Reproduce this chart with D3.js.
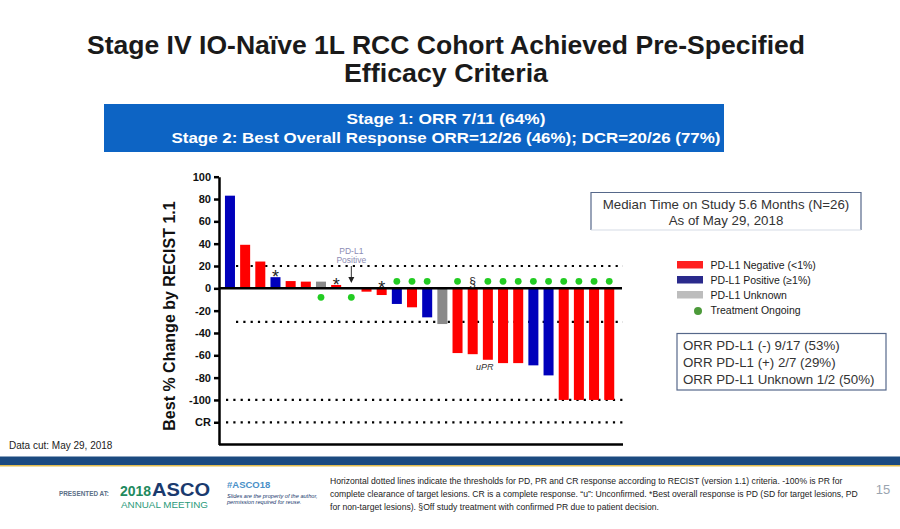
<!DOCTYPE html>
<html>
<head>
<meta charset="utf-8">
<script src="https://cdn.jsdelivr.net/npm/d3@7/dist/d3.min.js"></script>
<style>
  html, body { margin: 0; padding: 0; background: #fff; }
  svg { display: block; font-family: "Liberation Sans", Arial, sans-serif; }
</style>
</head>
<body>
<svg id="chart" width="900" height="529"></svg>
<script>
// ---------------- DATA ----------------
const patients = d3.range(1, 27).map(String);
const bestChange = [83, 39, 24, 10, 6.5, 6, 6, 3, 0, -3, -6, -14, -17, -26, -32,
                    -58, -59, -64, -67, -67, -69, -78, -100, -100, -100, -100];
const pdl1Status = ["pos","neg","neg","pos","neg","neg","unk","neg","pos","neg","neg","pos","neg",
                    "pos","unk","neg","neg","neg","neg","neg","pos","pos","neg","neg","neg","neg"];
const ongoing = [0,0,0,0,0,0,1,0,1,0,0,1,1,1,0,1,0,1,1,1,1,1,1,1,1,1];
const symbols = ["","","","*","","","","*","","","*","","","","","","§","","","","","","","","",""];
const yTickValues = [100, 80, 60, 40, 20, 0, -20, -40, -60, -80, -100, -120];
const yTickLabels = ["100","80","60","40","20","0","-20","-40","-60","-80","-100","CR"];
const thresholds = [20, -30, -100, -120];
const legendLabels = ["PD-L1 Negative (<1%)", "PD-L1 Positive (\u22651%)", "PD-L1 Unknown", "Treatment Ongoing"];
const orrLines = ["ORR PD-L1 (-) 9/17 (53%)", "ORR PD-L1 (+) 2/7 (29%)", "ORR PD-L1 Unknown 1/2 (50%)"];
const medianLines = ["Median Time on Study 5.6 Months (N=26)", "As of May 29, 2018"];
const titleLines = ["Stage IV IO-Na\u00efve 1L RCC Cohort Achieved Pre-Specified", "Efficacy Criteria"];
const bannerLines = ["Stage 1: ORR 7/11 (64%)", "Stage 2: Best Overall Response ORR=12/26 (46%); DCR=20/26 (77%)"];
const footLines = [
  "Horizontal dotted lines indicate the thresholds for PD, PR and CR response according to RECIST (version 1.1) criteria. -100% is PR for",
  "complete clearance of target lesions. CR is a complete response. \u201cu\u201d: Unconfirmed. *Best overall response is PD (SD for target lesions, PD",
  "for non-target lesions). \u00a7Off study treatment with confirmed PR due to patient decision."
];

const barColor = { neg: "#ff0000", pos: "#0000bb", unk: "#8a8a8a" };
const legendColor = ["#ff2020", "#2a2a8c", "#bdbdbd", "#4c9a3a"];

// ---------------- DRAW ----------------
const svg = d3.select("#chart");

// Title
const titleLen = [718, 204];
svg.append("g").selectAll("text").data(titleLines).join("text")
  .attr("x", 446).attr("y", (d, i) => 54 + i * 28)
  .attr("text-anchor", "middle").attr("font-size", 25).attr("font-weight", "bold")
  .attr("textLength", (d, i) => titleLen[i]).attr("lengthAdjust", "spacingAndGlyphs")
  .attr("fill", "#1a1a1a").text(d => d);

// Banner
const bannerLen = [199, 549];
svg.append("rect").attr("x", 104).attr("y", 104).attr("width", 620).attr("height", 48).attr("fill", "#0d64c4");
svg.append("g").selectAll("text").data(bannerLines).join("text")
  .attr("x", 446).attr("y", (d, i) => 124 + i * 19)
  .attr("text-anchor", "middle").attr("font-size", 15.5).attr("font-weight", "bold")
  .attr("textLength", (d, i) => bannerLen[i]).attr("lengthAdjust", "spacingAndGlyphs")
  .attr("fill", "#fff").text(d => d);

// Scales
const x = d3.scaleBand().domain(patients).range([219.8, 619.4]).paddingInner(0.34).paddingOuter(0.34);
const y = d3.scaleLinear().domain([-140, 100]).range([444.6, 176.7]);

// Threshold dotted lines
svg.append("g").selectAll("line").data(thresholds).join("line")
  .attr("x1", d => d >= -30 ? 236 : 226).attr("x2", 623)
  .attr("y1", d => y(d)).attr("y2", d => y(d))
  .attr("stroke", "#000").attr("stroke-width", 2.2).attr("stroke-dasharray", "2.2 5.1");

// Bars
svg.append("g").selectAll("rect").data(bestChange).join("rect")
  .attr("x", (d, i) => x(patients[i]))
  .attr("width", x.bandwidth())
  .attr("y", d => y(Math.max(d, 0)))
  .attr("height", d => Math.abs(y(d) - y(0)))
  .attr("fill", (d, i) => barColor[pdl1Status[i]]);

// Baseline
svg.append("line").attr("x1", 219).attr("x2", 622).attr("y1", y(0)).attr("y2", y(0))
  .attr("stroke", "#000").attr("stroke-width", 2.5);
// Bottom frame line
svg.append("line").attr("x1", 219).attr("x2", 623).attr("y1", y(-140)).attr("y2", y(-140))
  .attr("stroke", "#000").attr("stroke-width", 2.5);

// Y axis
const yAxis = d3.axisLeft(y).tickValues(yTickValues)
  .tickFormat(d => yTickLabels[yTickValues.indexOf(d)])
  .tickSize(5).tickSizeOuter(0).tickPadding(3);
const ga = svg.append("g").attr("transform", "translate(219,0)").call(yAxis);
ga.select(".domain").attr("stroke", "#000").attr("stroke-width", 2.5);
ga.selectAll(".tick line").attr("stroke", "#000").attr("stroke-width", 2.5);
ga.selectAll(".tick text").attr("font-size", 11).attr("font-weight", "bold")
  .attr("fill", "#111").attr("font-family", "'Liberation Sans', Arial, sans-serif");

// Y axis label
svg.append("text").attr("transform", "translate(175,316) rotate(-90)")
  .attr("text-anchor", "middle").attr("font-size", 16).attr("font-weight", "bold")
  .attr("fill", "#111").text("Best % Change by RECIST 1.1");

// Ongoing dots
svg.append("g").selectAll("circle")
  .data(bestChange.map((v, i) => ({ v, i })).filter(d => ongoing[d.i]))
  .join("circle")
  .attr("cx", d => x(patients[d.i]) + x.bandwidth() / 2)
  .attr("cy", d => d.v >= 0 ? y(0) + 9 : y(0) - 7)
  .attr("r", 3.4).attr("fill", "#22cc22");

// Symbols (* and §)
svg.append("g").selectAll("text")
  .data(bestChange.map((v, i) => ({ v, i, s: symbols[i] })).filter(d => d.s))
  .join("text")
  .attr("x", d => x(patients[d.i]) + x.bandwidth() / 2)
  .attr("y", d => d.s === "*" ? y(Math.max(d.v, 0)) + 6 : y(0) - 2.5)
  .attr("text-anchor", "middle")
  .attr("font-size", d => d.s === "*" ? 18 : 12)
  .attr("fill", "#222").text(d => d.s);

// PD-L1 Positive annotation with arrow
const annX = x(patients[8]) + x.bandwidth() / 2;
svg.append("text").attr("x", annX).attr("y", 254).attr("text-anchor", "middle")
  .attr("font-size", 8.5).attr("fill", "#8c8cb4").text("PD-L1");
svg.append("text").attr("x", annX).attr("y", 263).attr("text-anchor", "middle")
  .attr("font-size", 8.5).attr("fill", "#8c8cb4").text("Positive");
svg.append("line").attr("x1", annX).attr("x2", annX).attr("y1", 266).attr("y2", 278)
  .attr("stroke", "#333").attr("stroke-width", 1);
svg.append("path").attr("d", `M${annX - 3},${277} L${annX + 3},${277} L${annX},${283} Z`).attr("fill", "#222");

// uPR label
svg.append("text").attr("x", x(patients[17]) + x.bandwidth() / 2 - 3).attr("y", 370)
  .attr("text-anchor", "middle").attr("font-size", 9).attr("font-style", "italic")
  .attr("fill", "#333").text("uPR");

// Median box
svg.append("path").attr("d", "M591,230 L591,192.5 L861,192.5 L861,230")
  .attr("fill", "none").attr("stroke", "#56688a").attr("stroke-width", 1.2);
svg.append("line").attr("x1", 591).attr("x2", 861).attr("y1", 230).attr("y2", 230)
  .attr("stroke", "#d5dbe5").attr("stroke-width", 1);
svg.append("g").selectAll("text").data(medianLines).join("text")
  .attr("x", 726).attr("y", (d, i) => 208.5 + i * 16.5)
  .attr("text-anchor", "middle").attr("font-size", 13.3).attr("fill", "#333").text(d => d);

// Legend
const lg = svg.append("g");
[0, 1, 2].forEach(i => {
  lg.append("rect").attr("x", 677).attr("y", 261 + i * 15).attr("width", 26).attr("height", 7.5)
    .attr("fill", legendColor[i]);
});
lg.append("circle").attr("cx", 698).attr("cy", 311).attr("r", 4).attr("fill", legendColor[3]);
lg.selectAll("text").data(legendLabels).join("text")
  .attr("x", 710.5).attr("y", (d, i) => 268.5 + i * 15)
  .attr("font-size", 10.5).attr("fill", "#1a1a1a").text(d => d);

// ORR box
svg.append("rect").attr("x", 677).attr("y", 333.5).attr("width", 209).attr("height", 56.5)
  .attr("fill", "#fff").attr("stroke", "#56688a").attr("stroke-width", 1.2);
svg.append("g").selectAll("text").data(orrLines).join("text")
  .attr("x", 683).attr("y", (d, i) => 350 + i * 17.2)
  .attr("font-size", 13.3).attr("fill", "#333").text(d => d);

// Data cut
svg.append("text").attr("x", 9).attr("y", 448.5).attr("font-size", 10).attr("fill", "#222")
  .text("Data cut: May 29, 2018");

// Footer bar
svg.append("rect").attr("x", 0).attr("y", 456.5).attr("width", 900).attr("height", 8.5).attr("fill", "#1b4a80");
svg.append("rect").attr("x", 0).attr("y", 465).attr("width", 900).attr("height", 1.5).attr("fill", "#e2bc4e");

// Footer logos
svg.append("text").attr("x", 59).attr("y", 495.5).attr("font-size", 6.3).attr("font-weight", "bold")
  .attr("fill", "#5a6e86").attr("textLength", 50).attr("lengthAdjust", "spacingAndGlyphs").text("PRESENTED AT:");
svg.append("text").attr("x", 120).attr("y", 495.5).attr("font-size", 14).attr("font-weight", "bold")
  .attr("fill", "#1e8a5e").text("2018");
svg.append("text").attr("x", 152).attr("y", 495.5).attr("font-size", 19).attr("font-weight", "bold")
  .attr("fill", "#1a3a6e").attr("textLength", 58).attr("lengthAdjust", "spacingAndGlyphs").text("ASCO");
svg.append("text").attr("x", 121).attr("y", 508).attr("font-size", 9).attr("fill", "#2a9a7a")
  .attr("textLength", 87).attr("lengthAdjust", "spacingAndGlyphs").text("ANNUAL MEETING");
svg.append("text").attr("x", 227).attr("y", 488).attr("font-size", 9.5).attr("font-weight", "bold")
  .attr("fill", "#4a90c8").text("#ASCO18");
svg.append("text").attr("x", 227).attr("y", 498).attr("font-size", 5.6).attr("font-style", "italic")
  .attr("fill", "#1a3a6e").text("Slides are the property of the author,");
svg.append("text").attr("x", 227).attr("y", 504).attr("font-size", 5.6).attr("font-style", "italic")
  .attr("fill", "#1a3a6e").text("permission required for reuse.");

// Footnotes
svg.append("g").selectAll("text").data(footLines).join("text")
  .attr("x", 330).attr("y", (d, i) => 484 + i * 13)
  .attr("font-size", 8.6).attr("fill", "#222").text(d => d);

// Slide number
svg.append("text").attr("x", 883).attr("y", 494).attr("text-anchor", "middle")
  .attr("font-size", 13).attr("fill", "#9aa4b0").text("15");
</script>
</body>
</html>
